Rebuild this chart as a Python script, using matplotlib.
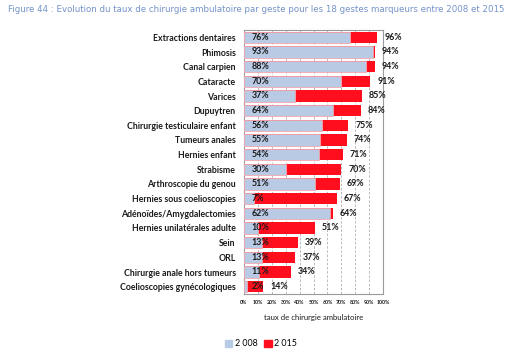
import matplotlib
matplotlib.use("Agg")
import matplotlib.pyplot as plt
import numpy as np

categories = ["Extractions dentaires", "Phimosis", "Canal carpien", "Cataracte", "Varices",
              "Dupuytren", "Chirurgie testiculaire enfant", "Tumeurs anales", "Hernies enfant",
              "Strabisme", "Arthroscopie du genou", "Hernies sous coelioscopies",
              "Adénoïdes/Amygdalectomies", "Hernies unilatérales adulte", "Sein", "ORL",
              "Chirurgie anale hors tumeurs", "Coelioscopies gynécologiques"]
v2008 = [76, 93, 88, 70, 37, 64, 56, 55, 54, 30, 51, 7, 62, 10, 13, 13, 11, 2]
v2015 = [96, 94, 94, 91, 85, 84, 75, 74, 71, 70, 69, 67, 64, 51, 39, 37, 34, 14]
xticks = [0, 10, 20, 30, 40, 50, 60, 70, 80, 90, 100]

plt.rcParams['font.family'] = ['Lato', 'DejaVu Sans']
blue = "#b9cae4"
red = "#ff0e1e"

fig = plt.figure(figsize=(5.12, 3.56), dpi=100)
ax = fig.add_axes([244/512, 1 - 294/356, (383 - 244)/512, (294 - 30)/356])
y = np.arange(len(categories))
ax.barh(y, v2015, height=0.76, color=red, zorder=2)
ax.barh(y, v2008, height=0.76, color=blue, edgecolor="#f4a6ae", linewidth=0.6, zorder=3)
for yi, a, b in zip(y, v2008, v2015):
    ax.text(5.5, yi, f"{a}%", va="center", ha="left", fontsize=6.4, fontweight="bold",
            color="#1a1a1a", zorder=4)
    ax.text(b + 5.0, yi, f"{b}%", va="center", ha="left", fontsize=6.4, fontweight="bold",
            color="#1a1a1a", zorder=4, clip_on=False)
ax.set_ylim(len(categories) - 0.5, -0.5)
ax.set_xlim(0, 100)
ax.set_yticks(y)
ax.set_yticklabels(categories, fontsize=6.3, fontweight="bold", color="#1a1a1a")
ax.set_xticks(xticks)
ax.set_xticklabels([f"{t}%" for t in xticks], fontsize=3.8, fontweight="bold", color="#1a1a1a")
ax.tick_params(axis="both", length=0, pad=4)
ax.tick_params(axis="y", pad=6)
ax.grid(axis="x", linestyle=(0, (3, 2)), color="#b0b0b0", linewidth=0.6, zorder=0)
for s in ax.spines.values():
    s.set_color("#9a9a9a")
    s.set_linewidth(0.8)
ax.set_xlabel("taux de chirurgie ambulatoire", fontsize=5.6, color="#1a1a1a", labelpad=7)

fig.text(8/512, 1 - 9/356, "Figure 44 : Evolution du taux de chirurgie ambulatoire par geste pour les 18 gestes marqueurs entre 2008 et 2015",
         fontsize=6.2, color="#7393c9", va="center", ha="left", family="DejaVu Sans")

from matplotlib.patches import Patch
handles = [Patch(color=blue, label="2 008"), Patch(color=red, label="2 015")]
fig.legend(handles=handles, loc="center", bbox_to_anchor=(261/512, 1 - 344/356), ncol=2,
           frameon=False, fontsize=6.4, handlelength=0.8, handleheight=0.8,
           handletextpad=0.3, columnspacing=0.8)

fig.savefig("out.png", dpi=100)
